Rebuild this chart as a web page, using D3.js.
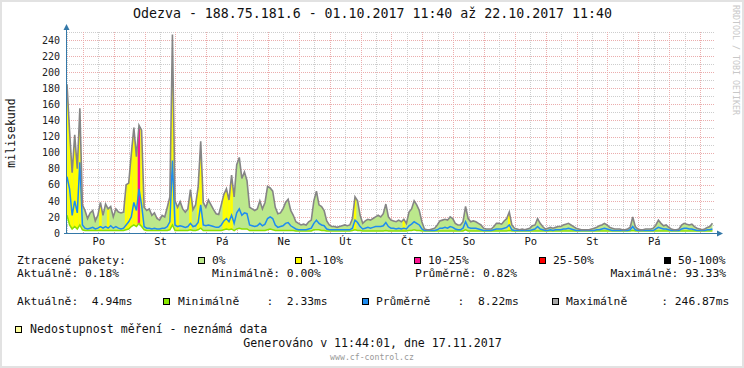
<!DOCTYPE html>
<html lang="cs">
<head>
<meta charset="UTF-8">
<title>Odezva - 188.75.181.6</title>
<script src="https://d3js.org/d3.v7.min.js"></script>
<style>
  body { margin: 0; background: #fff; }
  svg text { font-family: "DejaVu Sans Mono", monospace; white-space: pre; }
</style>
</head>
<body>
<script>
// 2-hour samples, 01.10.2017 11:40 .. 22.10.2017 11:40
const maxMs = [
  185,127,75,122,80,155,35,28,18,25, 28,15,22,38,22,36,30,33,20,30,
  26,25,26,60,62,98,131,95,134,128, 32,28,30,22,25,18,16,22,20,32,
  45,247,40,32,39,30,26,30,54,29, 35,57,114,38,32,41,35,29,24,23,
  35,48,55,41,72,45,85,94,68,76, 65,32,30,28,30,40,30,38,58,56,
  52,32,24,25,30,38,42,28,22,14, 12,10,11,10,14,16,40,52,35,33,
  28,15,10,8,8,7,8,9,10,9, 10,18,45,40,22,12,15,17,16,18,
  20,22,20,24,36,20,16,15,14,16, 14,17,12,26,30,40,35,28,14,5,
  4,4,5,6,10,15,16,17,16,20, 18,12,10,10,14,33,18,14,15,14,
  12,10,6,5,5,5,8,12,12,11, 15,18,26,10,6,5,4,5,4,5,
  6,9,10,18,12,8,5,6,7,6, 7,8,8,10,11,12,10,8,6,5,
  4,4,4,4,5,6,7,9,10,12, 10,7,6,5,5,5,4,4,5,7,
  20,8,5,4,4,5,5,5,6,10, 16,12,9,10,7,5,4,4,5,10,
  12,11,10,11,8,6,5,4,5,7,8,12
];
const avgMs = [
  70,55,22,40,25,88,10,6,5,6, 7,5,6,8,6,8,6,9,6,8,
  6,5,6,10,14,20,38,28,55,35, 8,6,6,5,6,5,5,6,6,8,
  14,90,10,8,9,8,7,8,12,8, 9,13,35,10,9,10,9,8,7,7,
  10,15,18,14,22,12,25,30,22,25, 24,10,9,8,9,12,9,11,18,20,
  18,10,7,8,9,12,13,9,7,5, 4,4,4,4,5,6,12,16,12,10,
  9,5,4,4,4,4,4,4,4,4, 4,6,16,13,8,5,6,7,6,7,
  8,8,8,9,13,8,6,6,5,6, 5,6,5,9,11,14,12,10,5,3,
  3,3,3,3,4,6,6,7,6,8, 7,5,4,4,6,14,7,6,6,6,
  5,4,3,3,3,3,4,5,5,5, 6,7,10,4,3,3,3,3,3,3,
  3,4,5,8,5,4,3,3,4,3, 4,4,4,5,5,6,5,4,3,3,
  3,3,3,3,3,3,4,4,5,6, 5,4,3,3,3,3,3,3,3,4,
  8,4,3,3,3,3,3,3,3,5, 7,6,5,5,4,3,3,3,3,5,
  6,6,5,5,4,3,3,3,3,4,4,5
];
const minMs = [
  22,10,5,8,5,10,4,3,3,3, 3,3,3,3,3,3,3,3,3,3,
  3,3,3,4,5,8,10,8,12,8, 4,3,3,3,3,3,3,3,3,3,
  4,10,3,3,3,3,3,3,4,3, 3,4,6,3,3,3,3,3,3,3,
  3,4,5,4,5,3,5,6,5,5, 5,3,3,3,3,3,3,3,4,5,
  4,3,3,3,3,3,3,3,3,2.5, 2.5,2.5,2.5,2.5,2.5,2.5,4,4,4,3,
  3,2.5,2.5,2.5,2.5,2.5,2.5,2.5,2.5,2.5, 2.5,3,4,3,3,2.5,2.5,2.5,2.5,2.5,
  2.5,2.5,2.5,2.5,3,2.5,2.5,2.5,2.5,2.5, 2.5,2.5,2.5,3,3,4,3,3,2.5,2.5,
  2.5,2.5,2.5,2.5,2.5,2.5,2.5,2.5,2.5,2.5, 2.5,2.5,2.5,2.5,2.5,4,2.5,2.5,2.5,2.5,
  2.5,2.5,2.5,2.5,2.5,2.5,2.5,2.5,2.5,2.5, 2.5,2.5,3,2.5,2.5,2.5,2.5,2.5,2.5,2.5,
  2.5,2.5,2.5,2.5,2.5,2.5,2.5,2.5,2.5,2.5, 2.5,2.5,2.5,2.5,2.5,2.5,2.5,2.5,2.5,2.5,
  2.5,2.5,2.5,2.5,2.5,2.5,2.5,2.5,2.5,2.5, 2.5,2.5,2.5,2.5,2.5,2.5,2.5,2.5,2.5,2.5,
  3,2.5,2.5,2.5,2.5,2.5,2.5,2.5,2.5,2.5, 2.5,2.5,2.5,2.5,2.5,2.5,2.5,2.5,2.5,2.5,
  2.5,2.5,2.5,2.5,2.5,2.5,2.5,2.5,2.5,2.5,2.5,2.5
];
// packet loss class per sample: 0 = 0%, 1 = 1-10%, 2 = 10-25%, 3 = 25-50%, 4 = 50-100%
const lossClass = [
  1,1,1,1,1,1,0,0,0,0, 0,0,0,1,0,0,1,0,0,0,
  0,0,0,1,1,1,1,1,2,1, 0,0,0,0,0,0,0,0,0,0,
  1,1,0,1,0,0,0,0,1,0, 0,1,1,0,0,0,0,0,0,0,
  0,1,1,1,1,0,0,0,0,0, 0,0,0,0,0,0,0,0,0,0,
  0,0,0,0,0,0,0,0,0,0, 0,0,0,0,0,0,0,0,0,0,
  0,0,0,0,0,0,0,0,0,0, 0,0,1,0,0,0,0,0,0,0,
  0,0,0,0,0,0,0,0,0,0, 0,1,0,0,0,0,0,0,0,0,
  0,0,0,0,0,0,0,0,0,0, 0,0,0,0,0,0,0,0,0,0,
  0,0,0,0,0,0,0,0,0,0, 0,0,1,0,0,0,0,0,0,0,
  0,0,0,0,0,0,0,0,0,0, 0,0,0,0,0,0,0,0,0,0,
  0,0,0,0,0,0,0,0,0,0, 0,0,0,0,0,0,0,0,0,0,
  0,0,0,0,0,0,0,0,0,0, 0,0,0,0,0,0,0,0,0,0,
  0,0,0,0,0,0,0,0,0,0,0,0
];
const dayLabels = ["Po", "St", "Pá", "Ne", "Út", "Čt", "So", "Po", "St", "Pá"];
const yTicks = [0, 20, 40, 60, 80, 100, 120, 140, 160, 180, 200, 220, 240];
const lossNames = ["0%", "1-10%", "10-25%", "25-50%", "50-100%"];
const lossColors = ["#bce88c", "#ffff00", "#ff1493", "#ff0000", "#000000"];

const W = 744, H = 368;
const plotL = 67, plotR = 715, plotT = 32, plotB = 233;
const start = new Date(2017, 9, 1, 11, 40), end = new Date(2017, 9, 22, 11, 40);

const svg = d3.select("body").append("svg")
    .attr("width", W)
    .attr("height", H);

svg.append("rect")
    .attr("x", 1).attr("y", 1).attr("width", W - 2).attr("height", H - 2)
    .attr("fill", "#fff").attr("stroke", "#e2e2e2").attr("stroke-width", 2);

const x = d3.scaleTime().domain([start, end]).range([plotL, plotR]);
const y = d3.scaleLinear().domain([0, 250]).range([plotB, plotT]);
const times = maxMs.map((v, i) => d3.timeHour.offset(start, 2 * i));
const idx = d3.range(maxMs.length);

// grid
const grid = svg.append("g").attr("shape-rendering", "crispEdges").attr("stroke-dasharray", "1,1");
const halfDays = d3.timeHour.every(12).range(start, end);
const minorColor = "#cdcdcd", majorColor = "#ebadad";
grid.selectAll(".vminor").data(halfDays.filter(d => d.getHours() === 12)).join("line")
    .attr("x1", d => Math.round(x(d)) + 0.5).attr("x2", d => Math.round(x(d)) + 0.5)
    .attr("y1", plotT).attr("y2", plotB)
    .attr("stroke", minorColor);
grid.selectAll(".hminor").data(d3.range(10, 251, 20)).join("line")
    .attr("x1", plotL).attr("x2", plotR)
    .attr("y1", d => Math.round(y(d)) + 0.5).attr("y2", d => Math.round(y(d)) + 0.5)
    .attr("stroke", minorColor);
grid.selectAll(".vmajor").data(halfDays.filter(d => d.getHours() === 0)).join("line")
    .attr("x1", d => Math.round(x(d)) + 0.5).attr("x2", d => Math.round(x(d)) + 0.5)
    .attr("y1", plotT).attr("y2", plotB)
    .attr("stroke", majorColor);
grid.selectAll(".hmajor").data(yTicks.slice(1)).join("line")
    .attr("x1", plotL).attr("x2", plotR)
    .attr("y1", d => Math.round(y(d)) + 0.5).attr("y2", d => Math.round(y(d)) + 0.5)
    .attr("stroke", majorColor);

// min..max band coloured by packet loss
const band = d3.area()
    .x(i => x(times[i]))
    .y0(i => y(minMs[i]))
    .y1(i => y(maxMs[i]));

svg.append("clipPath").attr("id", "band-clip")
  .append("path").attr("d", band(idx));

svg.append("path").attr("d", band(idx)).attr("fill", lossColors[0]);

svg.append("g").attr("clip-path", "url(#band-clip)")
  .selectAll("rect").data(idx.filter(i => lossClass[i] > 0)).join("rect")
    .attr("x", i => x(d3.timeHour.offset(times[i], -1)))
    .attr("width", i => x(d3.timeHour.offset(times[i], 1)) - x(d3.timeHour.offset(times[i], -1)))
    .attr("y", plotT).attr("height", plotB - plotT)
    .attr("fill", i => lossColors[lossClass[i]]);

const lineOf = arr => d3.line().x(i => x(times[i])).y(i => y(arr[i]))(idx);
svg.append("path").attr("d", lineOf(minMs)).attr("fill", "none")
    .attr("stroke", "#8be000").attr("stroke-width", 1.5);
svg.append("path").attr("d", lineOf(avgMs)).attr("fill", "none")
    .attr("stroke", "#1e8cf0").attr("stroke-width", 1.5);
svg.append("path").attr("d", lineOf(maxMs)).attr("fill", "none")
    .attr("stroke", "#858585").attr("stroke-width", 1.6);

// axes
const axisColor = "#3478a8";
svg.append("line").attr("x1", plotL - 0.5).attr("x2", plotL - 0.5).attr("y1", plotB + 1).attr("y2", 29)
    .attr("stroke", axisColor).attr("shape-rendering", "crispEdges");
svg.append("path").attr("d", `M${plotL - 3.5},30 L${plotL - 0.5},24 L${plotL + 2.5},30 Z`).attr("fill", axisColor);
svg.append("line").attr("x1", plotL - 3).attr("x2", 718).attr("y1", plotB + 0.5).attr("y2", plotB + 0.5)
    .attr("stroke", axisColor).attr("shape-rendering", "crispEdges");
svg.append("path").attr("d", `M717,${plotB - 2.5} L723,${plotB + 0.5} L717,${plotB + 3.5} Z`).attr("fill", axisColor);

const yAxis = svg.append("g")
    .attr("transform", `translate(${plotL},0)`)
    .call(d3.axisLeft(y).tickValues(yTicks).tickSize(0).tickPadding(7));
yAxis.select(".domain").remove();
yAxis.selectAll("text").attr("font-family", "DejaVu Sans Mono").attr("font-size", 10).attr("fill", "#222");

const labelDates = dayLabels.map((d, i) => d3.timeDay.offset(new Date(2017, 9, 2, 12, 0), 2 * i));
const xAxis = svg.append("g")
    .attr("transform", `translate(0,${plotB})`)
    .call(d3.axisBottom(x).tickValues(labelDates).tickFormat((d, i) => dayLabels[i]).tickSize(0).tickPadding(5));
xAxis.select(".domain").remove();
xAxis.selectAll("text").attr("font-family", "DejaVu Sans Mono").attr("font-size", 10.5).attr("fill", "#111");

// titles
svg.append("text").attr("x", 372.5).attr("y", 18).attr("text-anchor", "middle")
    .attr("font-size", 13.5).attr("fill", "#111")
    .attr("textLength", 479).attr("lengthAdjust", "spacingAndGlyphs")
    .text("Odezva - 188.75.181.6 - 01.10.2017 11:40 až 22.10.2017 11:40");

svg.append("text").attr("transform", "translate(15,133) rotate(-90)").attr("text-anchor", "middle")
    .attr("font-size", 11.5).attr("fill", "#111").text("milisekund");

svg.append("text").attr("transform", "translate(733,5) rotate(90)")
    .attr("font-size", 8.3).attr("fill", "#c8c8c8").text("RRDTOOL / TOBI OETIKER");

// legend
const lg = svg.append("g").attr("font-size", 11.3).attr("fill", "#111");
const box = (bx, by, color) => svg.append("rect")
    .attr("x", bx + 0.5).attr("y", by + 0.5).attr("width", 6).attr("height", 6)
    .attr("fill", color).attr("stroke", "#000").attr("shape-rendering", "crispEdges");
const txt = (tx, ty, s, g = lg) => g.append("text").attr("x", tx).attr("y", ty).text(s);

txt(17, 264, "Ztracené pakety:");
const lossBoxX = [198, 295, 414, 539, 664];
lossNames.forEach((n, i) => {
  box(lossBoxX[i], 257, lossColors[i]);
  txt(lossBoxX[i] + 14, 264, n);
});
txt(17, 277, "Aktuálně: 0.18%");
txt(212, 277, "Minimálně: 0.00%");
txt(415, 277, "Průměrně: 0.82%");
lg.append("text").attr("x", 726).attr("y", 277).attr("text-anchor", "end").text("Maximálně: 93.33%");

txt(17, 305, "Aktuálně:  4.94ms");
box(163, 298, "#88e800");
txt(178, 305, "Minimálně    :  2.33ms");
box(362, 298, "#1e8cf0");
txt(376, 305, "Průměrně    :  8.22ms");
box(552, 298, "#a8a8a8");
txt(566, 305, "Maximálně     : 246.87ms");

const lg2 = svg.append("g").attr("font-size", 11.6).attr("fill", "#111");
box(15, 326, "#ffffa0");
txt(30, 333, "Nedostupnost měření - neznámá data", lg2);
lg2.append("text").attr("x", 372.5).attr("y", 347).attr("text-anchor", "middle")
    .text("Generováno v 11:44:01, dne 17.11.2017");
svg.append("text").attr("x", 372).attr("y", 360).attr("text-anchor", "middle")
    .attr("font-size", 8.2).attr("fill", "#999").text("www.cf-control.cz");
</script>
</body>
</html>
